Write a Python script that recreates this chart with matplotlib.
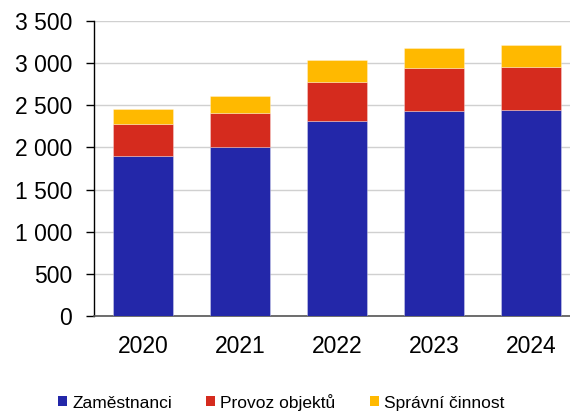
import matplotlib
matplotlib.use("Agg")
import matplotlib.pyplot as plt
from matplotlib.patches import Patch

years = ["2020", "2021", "2022", "2023", "2024"]
zamestnanci = [1898, 2008, 2320, 2431, 2443]
provoz = [379, 403, 464, 517, 513]
spravni = [181, 201, 261, 230, 257]
series_names = ["Zaměstnanci", "Provoz objektů", "Správní činnost"]
ytick_values = [0, 500, 1000, 1500, 2000, 2500, 3000, 3500]
ytick_labels = ["0", "500", "1 000", "1 500", "2 000", "2 500", "3 000", "3 500"]

colors = ["#2327A9", "#D52B1E", "#FFB900"]

plt.rcParams["font.family"] = ["Liberation Sans", "DejaVu Sans"]

fig = plt.figure(figsize=(5.7, 4.12), dpi=100)
ax = fig.add_axes([0.1654, 0.2337, 1 - 0.1654, 0.9483 - 0.2337])

x = list(range(len(years)))
width = 0.623
bottoms = [0] * len(years)
for vals, col in zip([zamestnanci, provoz, spravni], colors):
    ax.bar(x, vals, width=width, bottom=bottoms, color=col,
           edgecolor=(1, 1, 1, 0.35), linewidth=0.6, zorder=3)
    bottoms = [b + v for b, v in zip(bottoms, vals)]

ax.set_ylim(0, 3500)
ax.set_xlim(-0.5, 4.4)
ax.set_yticks(ytick_values)
ax.set_yticklabels(ytick_labels, fontsize=16.5)
ax.set_xticks(x)
ax.set_xticklabels(years, fontsize=16.5)
ax.tick_params(axis="y", length=6, width=1, pad=10, colors="black")
ax.tick_params(axis="x", length=0, pad=14)
ax.grid(axis="y", color="#D0D0D0", linewidth=1, zorder=0)
ax.set_axisbelow(True)
for s in ["top", "right"]:
    ax.spines[s].set_visible(False)
ax.spines["left"].set_color("black")
ax.spines["left"].set_linewidth(1)
ax.spines["bottom"].set_color("#555555")
ax.spines["bottom"].set_linewidth(1.2)

handles = [Patch(facecolor=c, edgecolor="none") for c in colors]
fig.legend(handles, series_names, loc="center", ncol=3,
           bbox_to_anchor=(0.4936, 0.024), frameon=False, fontsize=12.5,
           handlelength=0.5, handleheight=0.5, handletextpad=0.3,
           columnspacing=1.99, borderpad=0, borderaxespad=0)

fig.savefig("out.png", dpi=100)
